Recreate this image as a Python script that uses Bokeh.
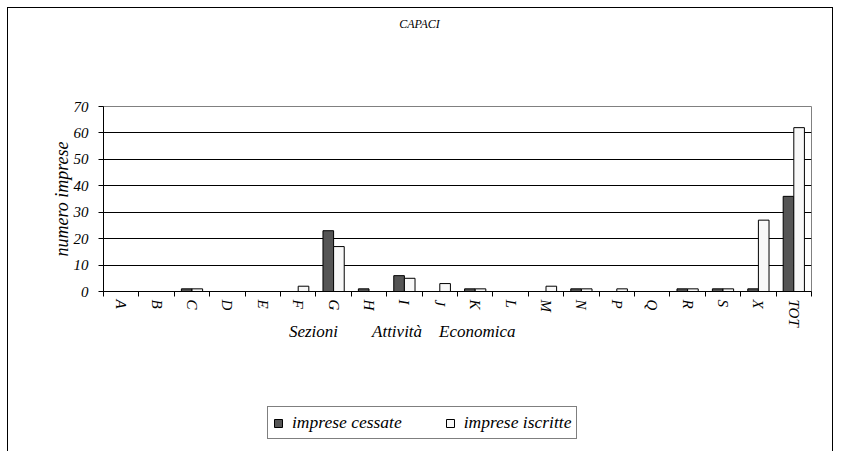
from bokeh.plotting import figure
from bokeh.layouts import column
from bokeh.models import (Range1d, FixedTicker, Legend, LegendItem, LinearAxis,
                          Label)
from bokeh.embed import file_html
from bokeh.resources import INLINE
import numpy as np

categories = ["A", "B", "C", "D", "E", "F", "G", "H", "I", "J",
              "K", "L", "M", "N", "P", "Q", "R", "S", "X", "TOT"]
cessate = [0, 0, 1, 0, 0, 0, 23, 1, 6, 0, 1, 0, 0, 1, 0, 0, 1, 1, 1, 36]
iscritte = [0, 0, 1, 0, 0, 2, 17, 0, 5, 3, 1, 0, 2, 1, 1, 0, 1, 1, 27, 62]
y_ticks = [0, 10, 20, 30, 40, 50, 60, 70]
title_text = "CAPACI"
x_title = "Sezioni" + "\u00a0" * 8 + "Attività" + "\u00a0" * 4 + "Economica"
y_title = "numero imprese"
series_names = ["imprese cessate", "imprese iscritte"]

FONT = "Liberation Serif"
W = 824
n = len(categories)
centers = np.arange(n) + 0.5
bar_w = 0.3
DARK = "#555555"
LIGHT = "#f8f8f8"


def bare_figure(h):
    f = figure(width=W, height=h, output_backend="svg", toolbar_location=None,
               x_range=Range1d(0, W), y_range=Range1d(0, h),
               x_axis_location=None, y_axis_location=None,
               min_border=0)
    f.outline_line_color = None
    f.grid.visible = False
    return f


# ---- title strip ----
tf = bare_figure(60)
tf.add_layout(Label(x=316, y=45, x_units="screen", text=title_text,
                    text_font=FONT, text_font_style="italic",
                    text_font_size="12px", text_color="black",
                    text_align="center", text_baseline="middle"))

# ---- main chart ----
p = figure(width=W, height=320, output_backend="svg", toolbar_location=None,
           x_range=Range1d(0, n), y_range=Range1d(0, 70),
           x_axis_location=None, y_axis_location=None,
           min_border_left=95, min_border_right=21, min_border_top=38,
           min_border_bottom=97)
p.outline_line_color = "#808080"
p.outline_line_width = 1

ya = LinearAxis(ticker=FixedTicker(ticks=y_ticks))
ya.axis_label = y_title
ya.axis_label_text_font = FONT
ya.axis_label_text_font_style = "italic"
ya.axis_label_text_font_size = "18px"
ya.axis_label_text_color = "black"
ya.axis_label_standoff = -1
ya.major_label_text_font = FONT
ya.major_label_text_font_style = "italic"
ya.major_label_text_font_size = "15px"
ya.major_label_text_color = "black"
ya.major_tick_out = 5
ya.major_tick_in = 0
ya.minor_tick_out = 0
ya.minor_tick_in = 0
ya.major_label_standoff = 10
ya.axis_line_color = "black"
p.add_layout(ya, "left")

xa = LinearAxis(ticker=FixedTicker(ticks=list(centers),
                                   minor_ticks=list(np.arange(n + 1))))
xa.major_label_overrides = {float(c): name for c, name in zip(centers, categories)}
xa.major_label_orientation = "vertical"
xa.major_label_text_font = FONT
xa.major_label_text_font_style = "italic"
xa.major_label_text_font_size = "15px"
xa.major_label_text_color = "black"
xa.major_tick_out = 0
xa.major_tick_in = 0
xa.minor_tick_out = 5
xa.minor_tick_in = 0
xa.minor_tick_line_color = "black"
xa.major_label_standoff = 3
xa.axis_line_color = "black"
p.add_layout(xa, "below")

ta = LinearAxis(ticker=FixedTicker(ticks=[]))
ta.axis_line_color = None
ta.major_tick_line_color = None
ta.minor_tick_line_color = None
ta.major_label_text_font_size = "0px"
ta.major_label_standoff = 0
ta.axis_label = x_title + "\u00a0" * 26
ta.axis_label_text_font = FONT
ta.axis_label_text_font_style = "italic"
ta.axis_label_text_font_size = "17px"
ta.axis_label_text_color = "black"
ta.axis_label_standoff = -8
p.add_layout(ta, "below")

p.ygrid.ticker = FixedTicker(ticks=y_ticks)
p.xgrid.visible = False
p.ygrid.grid_line_color = "black"
p.ygrid.grid_line_width = 1

p.vbar(x=centers - bar_w / 2, top=cessate, width=bar_w,
       fill_color=DARK, line_color="black", line_width=1)
p.vbar(x=centers + bar_w / 2, top=iscritte, width=bar_w,
       fill_color=LIGHT, line_color="black", line_width=1)

# ---- legend strip (swatch renderers sit outside the visible range) ----
lf = bare_figure(63)
g1 = lf.vbar(x=[-50], top=[0], width=1, fill_color=DARK, line_color="black")
g2 = lf.vbar(x=[-50], top=[0], width=1, fill_color=LIGHT, line_color="black")
legend = Legend(items=[LegendItem(label=series_names[0], renderers=[g1]),
                       LegendItem(label=series_names[1], renderers=[g2])],
                orientation="horizontal", location=(164, 12))
legend.label_text_font = FONT
legend.label_text_font_style = "italic"
legend.label_text_font_size = "17.5px"
legend.label_text_color = "black"
legend.glyph_width = 10
legend.glyph_height = 10
legend.label_standoff = 9
legend.spacing = 43
legend.padding = 5
legend.margin = 0
legend.label_height = 15
legend.border_line_color = "black"
legend.border_line_width = 1
legend.background_fill_alpha = 1
lf.add_layout(legend, "center")

layout = column(tf, p, lf, spacing=0)
layout.styles = {"border-left": "1px solid black", "border-top": "1px solid black",
                 "border-right": "1px solid black", "margin": "7px 0 0 7px"}

open("out.html", "w").write(file_html(layout, INLINE))
